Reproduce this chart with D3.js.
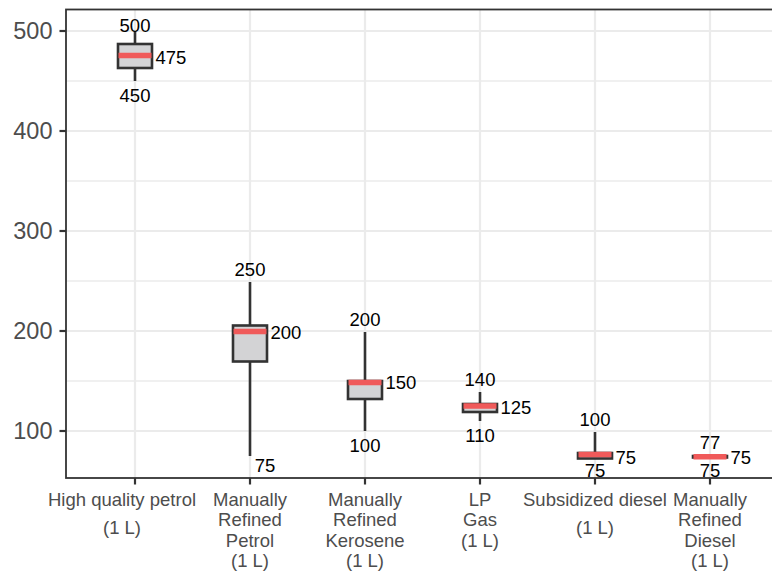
<!DOCTYPE html>
<html>
<head>
<meta charset="utf-8">
<script src="https://cdn.jsdelivr.net/npm/d3@7"></script>
<style>
    body { margin: 0; background: #fff; }
    svg { display: block; font-family: "Liberation Sans", Arial, Helvetica, sans-serif; }
</style>
</head>
<body>
<svg id="chart" width="772" height="571"></svg>
<script>
// --- Data ---
const categories = ['High quality petrol', 'Manually Refined Petrol', 'Manually Refined Kerosene', 'LP Gas', 'Subsidized diesel', 'Manually Refined Diesel'];
const categoryLines = [
    ['High quality petrol', '(1 L)'],
    ['Manually', 'Refined', 'Petrol', '(1 L)'],
    ['Manually', 'Refined', 'Kerosene', '(1 L)'],
    ['LP', 'Gas', '(1 L)'],
    ['Subsidized diesel', '(1 L)'],
    ['Manually', 'Refined', 'Diesel', '(1 L)']
];

// box statistics
const whiskerLow  = [450,  75, 100, 110, 72.5, 73.5];
const q1          = [463, 169.5, 132, 119, 72.5, 73.5];
const median      = [475.5, 199.5, 148.5, 125, 76.5, 74.3];
const q3          = [487, 205.5, 150, 127, 78, 75];
const whiskerHigh = [500, 249, 199, 139, 99, 75];

// text annotations printed on the chart
const maxLabels = [500, 250, 200, 140, 100, 77];
const medLabels = [475, 200, 150, 125, 75, 75];
const minLabels = [450, 75, 100, 110, 75, 75];

const yTicks = [100, 200, 300, 400, 500];
const yMinorTicks = [150, 250, 350, 450];

// --- Layout ---
const svg = d3.select('#chart');
const panel = { left: 66, right: 779, top: 9.5, bottom: 478 };
const textGrey = '#4d4d4d';
const dark = '#333333';

const x = d3.scalePoint().domain(categories).range([panel.left, panel.right]).padding(0.6);
const y = d3.scaleLinear().domain([53, 521.5]).range([panel.bottom, panel.top]);

svg.append('rect').attr('width', 772).attr('height', 571).attr('fill', '#fff');

// grid
const grid = svg.append('g');
grid.selectAll('.minor').data(yMinorTicks).enter().append('line')
    .attr('x1', panel.left).attr('x2', panel.right)
    .attr('y1', d => y(d)).attr('y2', d => y(d))
    .attr('stroke', '#ebebeb').attr('stroke-width', 1.4);
grid.selectAll('.major').data(yTicks).enter().append('line')
    .attr('x1', panel.left).attr('x2', panel.right)
    .attr('y1', d => y(d)).attr('y2', d => y(d))
    .attr('stroke', '#ebebeb').attr('stroke-width', 2.2);
grid.selectAll('.vert').data(categories).enter().append('line')
    .attr('x1', d => x(d)).attr('x2', d => x(d))
    .attr('y1', panel.top).attr('y2', panel.bottom)
    .attr('stroke', '#ebebeb').attr('stroke-width', 2.2);

// boxes
const boxW = 34;
const lineW = 2.6;
const boxes = svg.append('g');
categories.forEach((cat, i) => {
    const cx = x(cat);
    const g = boxes.append('g');
    g.append('line')
        .attr('x1', cx).attr('x2', cx)
        .attr('y1', y(whiskerHigh[i])).attr('y2', y(q3[i]))
        .attr('stroke', dark).attr('stroke-width', lineW);
    g.append('line')
        .attr('x1', cx).attr('x2', cx)
        .attr('y1', y(q1[i])).attr('y2', y(whiskerLow[i]))
        .attr('stroke', dark).attr('stroke-width', lineW);
    g.append('rect')
        .attr('x', cx - boxW / 2).attr('width', boxW)
        .attr('y', y(q3[i])).attr('height', y(q1[i]) - y(q3[i]))
        .attr('fill', '#d3d3d5').attr('stroke', dark).attr('stroke-width', lineW);
    g.append('line')
        .attr('x1', cx - boxW / 2 + 0.5).attr('x2', cx + boxW / 2 - 0.5)
        .attr('y1', y(median[i])).attr('y2', y(median[i]))
        .attr('stroke', '#f05a5a').attr('stroke-width', 5.4);
});

// annotations
const ann = svg.append('g').attr('font-size', '18.5px').attr('fill', '#000');
const maxNudge = { 0: 6 };            // label at the top of the panel sits lower
const minNudge = { 1: [15, -5] };     // the long petrol whisker label is offset right
categories.forEach((cat, i) => {
    const cx = x(cat);
    ann.append('text')
        .attr('x', cx).attr('y', y(maxLabels[i]) - 12 + (maxNudge[i] || 0))
        .attr('dy', '0.36em').attr('text-anchor', 'middle')
        .text(maxLabels[i]);
    const n = minNudge[i] || [0, 0];
    ann.append('text')
        .attr('x', cx + n[0]).attr('y', y(minLabels[i]) + 14 + n[1])
        .attr('dy', '0.36em').attr('text-anchor', 'middle')
        .text(minLabels[i]);
    ann.append('text')
        .attr('x', cx + 20.5).attr('y', y(medLabels[i]) + 1)
        .attr('dy', '0.36em').attr('text-anchor', 'start')
        .text(medLabels[i]);
});

// panel border
svg.append('rect')
    .attr('x', panel.left).attr('y', panel.top)
    .attr('width', panel.right - panel.left).attr('height', panel.bottom - panel.top)
    .attr('fill', 'none').attr('stroke', dark).attr('stroke-width', 1.8);

// y axis
const yAxis = svg.append('g');
yAxis.selectAll('line').data(yTicks).enter().append('line')
    .attr('x1', panel.left - 6.5).attr('x2', panel.left)
    .attr('y1', d => y(d)).attr('y2', d => y(d))
    .attr('stroke', dark).attr('stroke-width', 2.2);
yAxis.selectAll('text').data(yTicks).enter().append('text')
    .attr('x', panel.left - 13.5).attr('y', d => y(d))
    .attr('dy', '0.36em').attr('text-anchor', 'end')
    .attr('font-size', '23.5px').attr('fill', textGrey)
    .text(d => d);

// x axis
const xAxis = svg.append('g');
xAxis.selectAll('line').data(categories).enter().append('line')
    .attr('x1', d => x(d)).attr('x2', d => x(d))
    .attr('y1', panel.bottom).attr('y2', panel.bottom + 6.5)
    .attr('stroke', dark).attr('stroke-width', 2.2);
const labelShift = { 0: -13 };        // first label sits left of its tick in the original
categories.forEach((cat, i) => {
    const lines = categoryLines[i];
    const gap = lines.length === 2 ? 28 : 20.4;
    const t = xAxis.append('text')
        .attr('text-anchor', 'middle')
        .attr('font-size', '18.5px').attr('fill', textGrey);
    lines.forEach((ln, j) => {
        t.append('tspan')
            .attr('x', x(cat) + (labelShift[i] || 0)).attr('y', 506 + j * gap)
            .text(ln);
    });
});
</script>
</body>
</html>
